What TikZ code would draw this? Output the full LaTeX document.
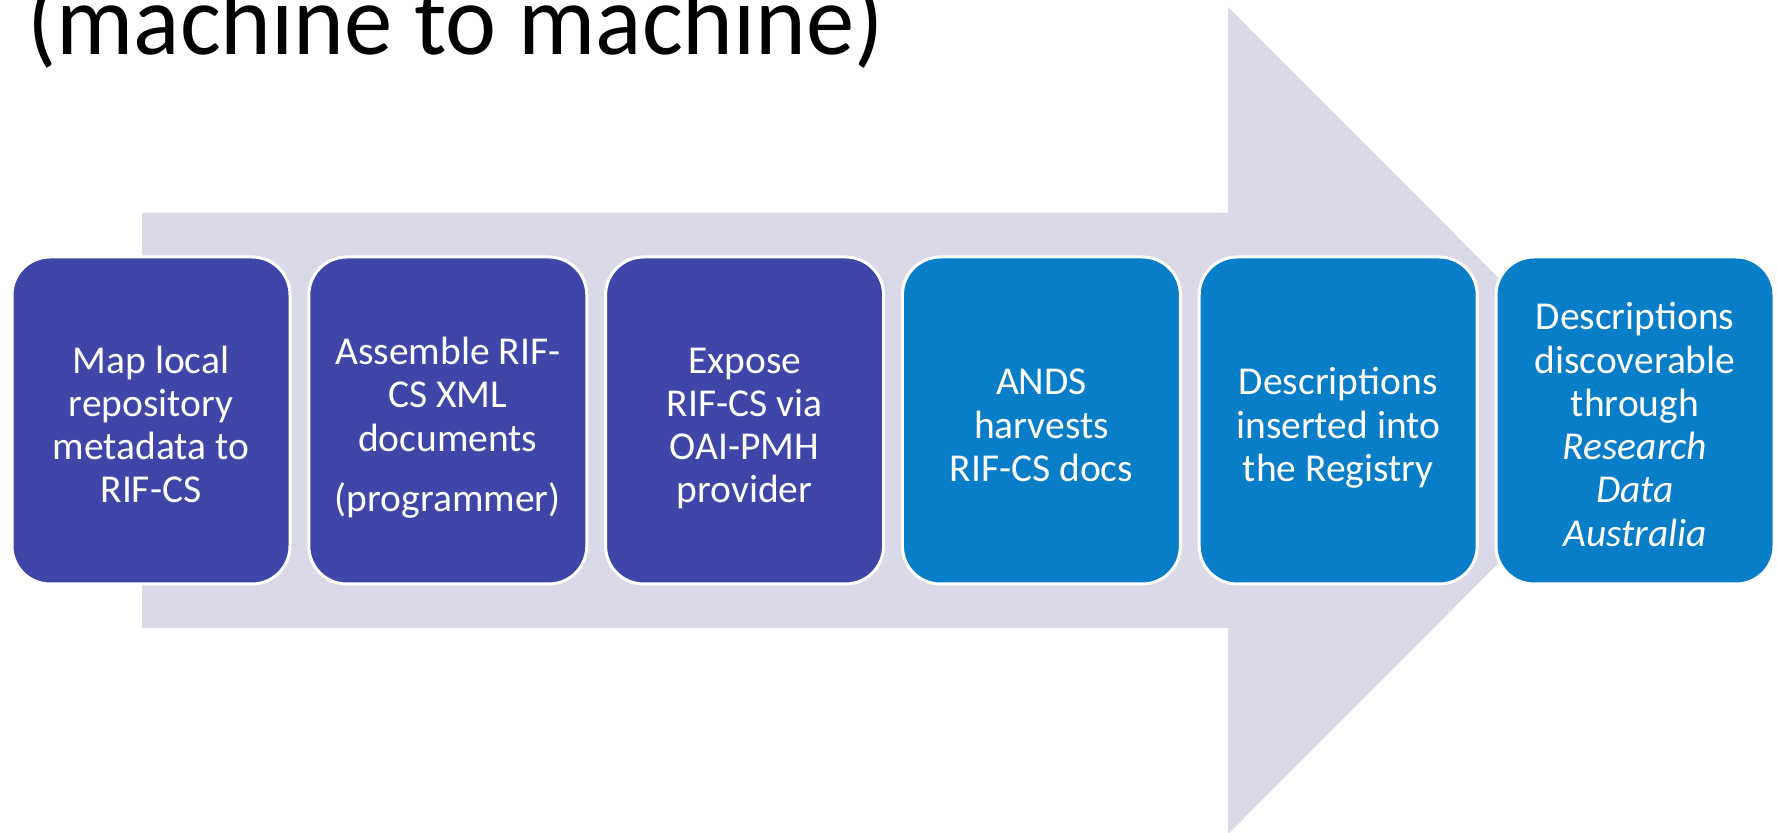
\documentclass[tikz,border=0pt]{standalone}
\usepackage{fontspec}
\setmainfont{Carlito}
\definecolor{arrowgray}{RGB}{217,217,231}
\definecolor{boxpurple}{RGB}{64,70,168}
\definecolor{boxblue}{RGB}{8,125,200}
\newcommand\myTopStrut{\rule{0pt}{24pt}}
\tikzset{
  stepbox/.style={rectangle, rounded corners=19pt, draw=white, line width=1.5pt,
    minimum width=139pt, minimum height=163.5pt, inner sep=0pt, text=white,
    align=center, font=\fontsize{19.75pt}{21.65pt}\selectfont},
  purplebox/.style={stepbox, fill=boxpurple},
  bluebox/.style={stepbox, fill=boxblue},
}
\begin{document}
\begin{tikzpicture}[x=0.5pt, y=-0.5pt]
\useasboundingbox (0,0) rectangle (1777,833);
% big background arrow
\fill[arrowgray] (142,213) -- (1228,213) -- (1228,7) -- (1641,420.5)
  -- (1228,834) -- (1228,628) -- (142,628) -- cycle;
% title (partly cut at the top)
\node[anchor=base west, inner sep=0pt, yscale=1.04, transform shape,
  font=\fontsize{48.3pt}{58pt}\selectfont]
  (title) at (27,55) {(machine to machine)};
% steps
\node[purplebox] (s1) at (151,420.5) {\myTopStrut Map local\\repository\\metadata to\\RIF-CS\strut};
\node[purplebox] (s2) at (447.8,420.5) {\myTopStrut Assemble RIF-\\CS XML\\documents\\[8.5pt](programmer)\strut};
\node[purplebox] (s3) at (744.6,420.5) {\myTopStrut Expose\\RIF-CS via\\OAI-PMH\\provider\strut};
\node[bluebox] (s4) at (1041.4,420.5) {\myTopStrut ANDS\\harvests\\RIF-CS docs\strut};
\node[bluebox] (s5) at (1338.2,420.5) {\myTopStrut Descriptions\\inserted into\\the Registry\strut};
\node[bluebox] (s6) at (1635,420.5) {\myTopStrut Descriptions\\discoverable\\through\\\textit{Research}\\\textit{Data}\\\textit{Australia}\strut};
\end{tikzpicture}
\end{document}
